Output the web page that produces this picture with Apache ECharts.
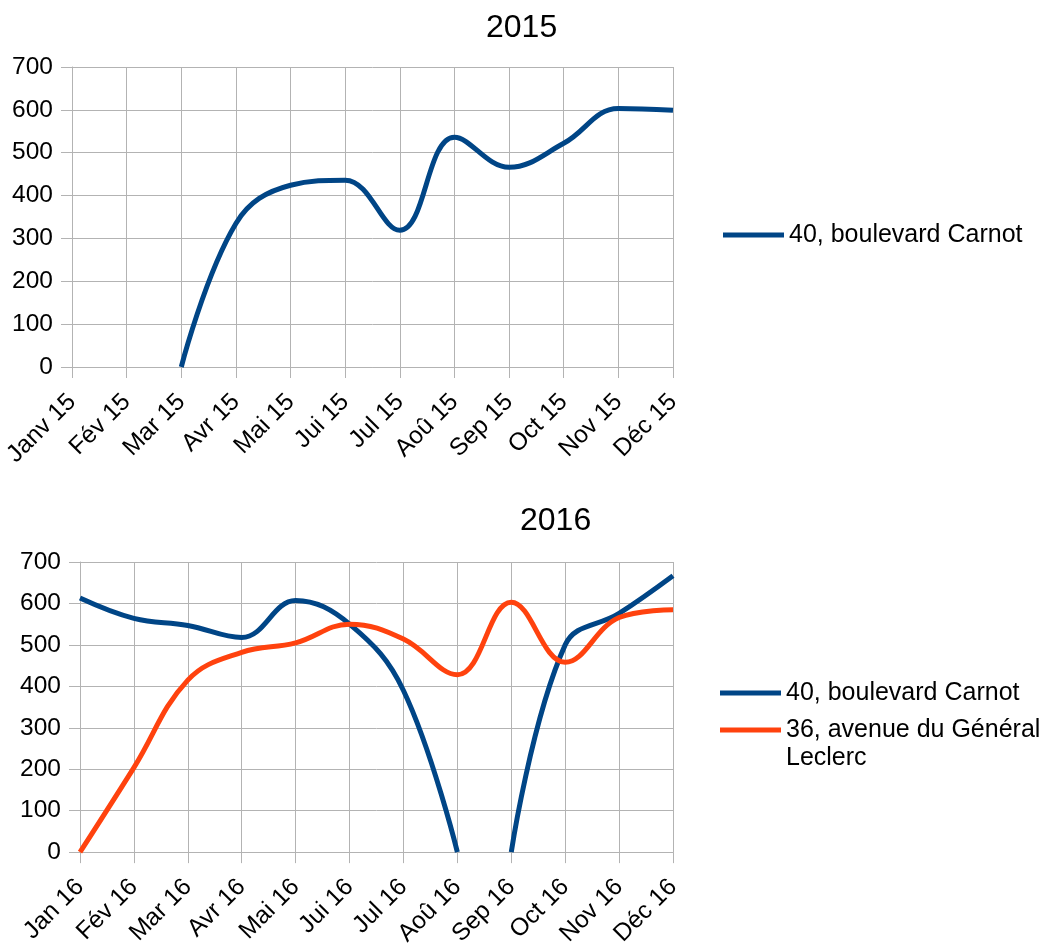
<!DOCTYPE html>
<html>
<head>
<meta charset="utf-8">
<script src="https://cdn.jsdelivr.net/npm/echarts@6/dist/echarts.min.js"></script>
<style>
html,body{margin:0;padding:0;background:#fff;}
#chart{width:1048px;height:949px;}
</style>
</head>
<body>
<div id="chart"></div>
<script>
// ---- data ----
const months2015 = ['Janv 15','Fév 15','Mar 15','Avr 15','Mai 15','Jui 15','Jul 15','Aoû 15','Sep 15','Oct 15','Nov 15','Déc 15'];
const months2016 = ['Jan 16','Fév 16','Mar 16','Avr 16','Mai 16','Jui 16','Jul 16','Aoû 16','Sep 16','Oct 16','Nov 16','Déc 16'];
const carnot2015 = [null, null, 0, 335, 424, 436, 319, 536, 466, 522, 603, 599];
const carnot2016 = [613, 564, 547, 518, 607, 550, 390, 0, 0, 500, 576, 667];
const carnot2016BreakAfter = 'Aoû 16'; // no line drawn between Aoû 16 and Sep 16
const leclerc2016 = [0, 204, 415, 482, 505, 550, 514, 428, 603, 458, 566, 585];
const yTicks = [0, 100, 200, 300, 400, 500, 600, 700];
const nameCarnot = '40, boulevard Carnot';
const nameLeclerc = '36, avenue du Général Leclerc';
const titles = ['2015', '2016'];

// ---- styles ----
const BLUE = '#004586';
const ORANGE = '#ff420e';
const GRID = '#b3b3b3';
const FONT = 'Liberation Sans, Arial, sans-serif';
const FS = 24.5;
const LFS = 25;

const breakIdx = months2016.indexOf(carnot2016BreakAfter);
const carnot2016a = carnot2016.map((v, i) => i <= breakIdx ? v : null);
const carnot2016b = carnot2016.map((v, i) => i > breakIdx ? v : null);

function xAxis(cats, gi) {
  return {
    type: 'category', gridIndex: gi, data: cats, boundaryGap: false,
    axisLine: {show: true, lineStyle: {color: GRID, width: 1}},
    axisTick: {show: true, length: 11, lineStyle: {color: GRID}},
    splitLine: {show: true, lineStyle: {color: GRID, width: 1}},
    axisLabel: {rotate: 45, margin: 31, color: '#000', fontSize: FS, fontFamily: FONT, interval: 0}
  };
}
function yAxis(gi) {
  return {
    type: 'value', gridIndex: gi, min: yTicks[0], max: yTicks[yTicks.length - 1],
    interval: yTicks[1] - yTicks[0],
    axisLine: {show: true, lineStyle: {color: GRID, width: 1}},
    axisTick: {show: true, length: 11, lineStyle: {color: GRID}},
    splitLine: {show: true, lineStyle: {color: GRID, width: 1}},
    axisLabel: {margin: 19, color: '#000', fontSize: FS, fontFamily: FONT}
  };
}
function line(name, data, color, xi) {
  return {
    name: name, type: 'line', xAxisIndex: xi, yAxisIndex: xi, data: data,
    smooth: 0.4, showSymbol: false, symbol: 'none', connectNulls: false,
    lineStyle: {color: color, width: 5}, itemStyle: {color: color},
    animation: false, emphasis: {disabled: true}
  };
}
const legendCommon = {
  orient: 'vertical', icon: 'rect', itemWidth: 61, itemHeight: 5, padding: 0,
  selectedMode: false
};

const chart = echarts.init(document.getElementById('chart'), null, {renderer: 'canvas'});
chart.setOption({
  backgroundColor: '#fff',
  animation: false,
  title: [
    {text: titles[0], left: 486, top: 12, padding: 0,
     textStyle: {fontSize: 32, fontWeight: 'normal', color: '#000', fontFamily: FONT}},
    {text: titles[1], left: 520, top: 505, padding: 0,
     textStyle: {fontSize: 32, fontWeight: 'normal', color: '#000', fontFamily: FONT}}
  ],
  legend: [
    Object.assign({}, legendCommon, {data: [nameCarnot], left: 723, top: 221,
      textStyle: {fontSize: LFS, lineHeight: 28, color: '#000', fontFamily: FONT}}),
    Object.assign({}, legendCommon, {data: [nameCarnot], left: 720, top: 679,
      textStyle: {fontSize: LFS, lineHeight: 28, color: '#000', fontFamily: FONT}}),
    Object.assign({}, legendCommon, {data: [nameLeclerc], left: 720, top: 688,
      formatter: function (n) { return '\n' + n; },
      textStyle: {fontSize: LFS, lineHeight: 28, color: '#000', fontFamily: FONT,
                  width: 300, overflow: 'break'}})
  ],
  grid: [
    {left: 72, right: 375, top: 67, height: 300, containLabel: false},
    {left: 80, right: 375, top: 562, height: 294, containLabel: false}
  ],
  xAxis: [xAxis(months2015, 0), xAxis(months2016, 1)],
  yAxis: [yAxis(0), yAxis(1)],
  series: [
    line(nameCarnot, carnot2015, BLUE, 0),
    line(nameCarnot, carnot2016a, BLUE, 1),
    line(nameCarnot, carnot2016b, BLUE, 1),
    line(nameLeclerc, leclerc2016, ORANGE, 1)
  ]
});
</script>
</body>
</html>
